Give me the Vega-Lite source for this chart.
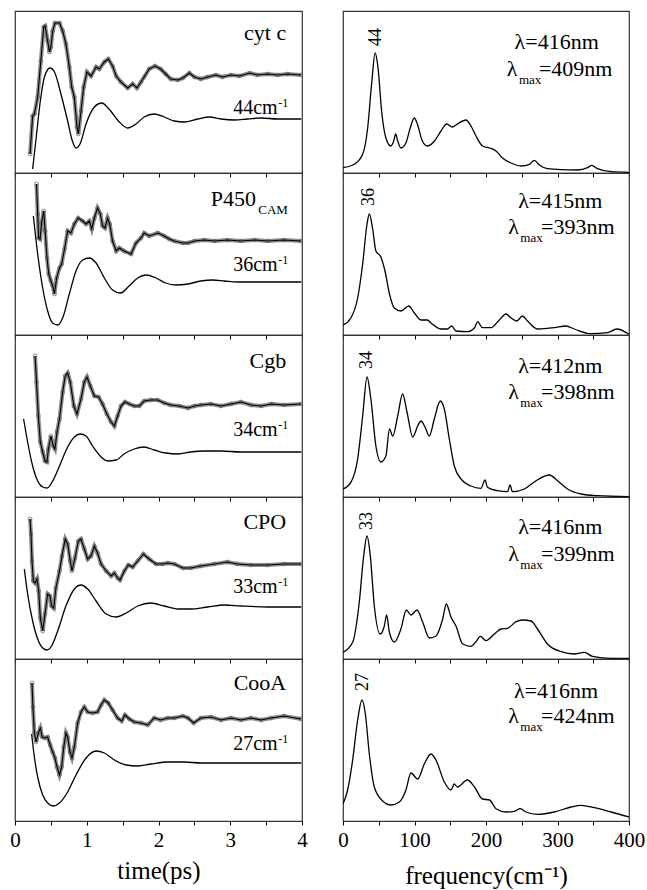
{
"$schema": "https://vega.github.io/schema/vega-lite/v6.json",
"padding": {"left": 9, "top": 10, "right": 0, "bottom": 0},
"background": "white",
"config": {
  "view": {"stroke": "#333333", "strokeWidth": 1.2},
  "axis": {"domain": false, "grid": false, "ticks": true, "tickColor": "black", "tickSize": 4, "tickWidth": 1, "labelFont": "Liberation Serif, serif", "labelFontSize": 21, "labelColor": "black", "labelPadding": 4, "labelOverlap": false, "labelFlush": false, "labelBound": false, "titleFont": "Liberation Serif, serif", "titleFontSize": 25, "titleFontWeight": "normal", "titleColor": "black"},
  "text": {"font": "Liberation Serif, serif", "color": "black"}
},
"datasets": {
  "tr": [
{"p":1,"s":"d","x":0.21,"y":19},{"p":1,"s":"d","x":0.246,"y":57},{"p":1,"s":"d","x":0.27,"y":59},{"p":1,"s":"d","x":0.316,"y":76},{"p":1,"s":"d","x":0.36,"y":112},{"p":1,"s":"d","x":0.40,"y":146},{"p":1,"s":"d","x":0.42,"y":147},{"p":1,"s":"d","x":0.455,"y":132},{"p":1,"s":"d","x":0.48,"y":121},{"p":1,"s":"d","x":0.50,"y":126},{"p":1,"s":"d","x":0.525,"y":142},{"p":1,"s":"d","x":0.557,"y":150},{"p":1,"s":"d","x":0.62,"y":150},{"p":1,"s":"d","x":0.665,"y":142},{"p":1,"s":"d","x":0.71,"y":129},{"p":1,"s":"d","x":0.757,"y":106},{"p":1,"s":"d","x":0.79,"y":86},{"p":1,"s":"d","x":0.827,"y":76},{"p":1,"s":"d","x":0.864,"y":46},{"p":1,"s":"d","x":0.883,"y":39},{"p":1,"s":"d","x":0.92,"y":62},{"p":1,"s":"d","x":0.957,"y":86},{"p":1,"s":"d","x":1.003,"y":101},{"p":1,"s":"d","x":1.06,"y":97},{"p":1,"s":"d","x":1.13,"y":106},{"p":1,"s":"d","x":1.175,"y":104},{"p":1,"s":"d","x":1.245,"y":111},{"p":1,"s":"d","x":1.30,"y":114},{"p":1,"s":"d","x":1.36,"y":107},{"p":1,"s":"d","x":1.41,"y":97},{"p":1,"s":"d","x":1.477,"y":91},{"p":1,"s":"d","x":1.57,"y":85},{"p":1,"s":"d","x":1.64,"y":89},{"p":1,"s":"d","x":1.70,"y":85},{"p":1,"s":"d","x":1.756,"y":91},{"p":1,"s":"d","x":1.80,"y":96},{"p":1,"s":"d","x":1.87,"y":104},{"p":1,"s":"d","x":1.95,"y":107},{"p":1,"s":"d","x":2.03,"y":104},{"p":1,"s":"d","x":2.10,"y":99},{"p":1,"s":"d","x":2.17,"y":94},{"p":1,"s":"d","x":2.27,"y":93},{"p":1,"s":"d","x":2.34,"y":95},{"p":1,"s":"d","x":2.43,"y":100},{"p":1,"s":"d","x":2.50,"y":96},{"p":1,"s":"d","x":2.59,"y":94},{"p":1,"s":"d","x":2.685,"y":96},{"p":1,"s":"d","x":2.80,"y":98},{"p":1,"s":"d","x":2.89,"y":96},{"p":1,"s":"d","x":3.01,"y":98},{"p":1,"s":"d","x":3.13,"y":97},{"p":1,"s":"d","x":3.27,"y":100},{"p":1,"s":"d","x":3.38,"y":98},{"p":1,"s":"d","x":3.52,"y":99},{"p":1,"s":"d","x":3.66,"y":98},{"p":1,"s":"d","x":3.80,"y":99},{"p":1,"s":"d","x":3.99,"y":98},
{"p":1,"s":"f","x":0.246,"y":4},{"p":1,"s":"f","x":0.29,"y":32},{"p":1,"s":"f","x":0.353,"y":72},{"p":1,"s":"f","x":0.41,"y":96},{"p":1,"s":"f","x":0.488,"y":105},{"p":1,"s":"f","x":0.55,"y":101},{"p":1,"s":"f","x":0.64,"y":79},{"p":1,"s":"f","x":0.734,"y":52},{"p":1,"s":"f","x":0.80,"y":32},{"p":1,"s":"f","x":0.85,"y":25},{"p":1,"s":"f","x":0.906,"y":29},{"p":1,"s":"f","x":0.99,"y":49},{"p":1,"s":"f","x":1.106,"y":66},{"p":1,"s":"f","x":1.21,"y":70},{"p":1,"s":"f","x":1.31,"y":64},{"p":1,"s":"f","x":1.454,"y":51},{"p":1,"s":"f","x":1.57,"y":45},{"p":1,"s":"f","x":1.686,"y":49},{"p":1,"s":"f","x":1.80,"y":56},{"p":1,"s":"f","x":1.94,"y":59},{"p":1,"s":"f","x":2.08,"y":56},{"p":1,"s":"f","x":2.22,"y":52},{"p":1,"s":"f","x":2.36,"y":51},{"p":1,"s":"f","x":2.546,"y":54},{"p":1,"s":"f","x":2.71,"y":56},{"p":1,"s":"f","x":2.87,"y":54},{"p":1,"s":"f","x":3.06,"y":53},{"p":1,"s":"f","x":3.24,"y":54},{"p":1,"s":"f","x":3.43,"y":55},{"p":1,"s":"f","x":3.66,"y":54},{"p":1,"s":"f","x":3.99,"y":54},
{"p":2,"s":"d","x":0.30,"y":151},{"p":2,"s":"d","x":0.316,"y":121},{"p":2,"s":"d","x":0.33,"y":97},{"p":2,"s":"d","x":0.35,"y":96},{"p":2,"s":"d","x":0.37,"y":112},{"p":2,"s":"d","x":0.40,"y":124},{"p":2,"s":"d","x":0.42,"y":104},{"p":2,"s":"d","x":0.446,"y":77},{"p":2,"s":"d","x":0.47,"y":61},{"p":2,"s":"d","x":0.50,"y":54},{"p":2,"s":"d","x":0.525,"y":49},{"p":2,"s":"d","x":0.55,"y":41},{"p":2,"s":"d","x":0.58,"y":57},{"p":2,"s":"d","x":0.62,"y":67},{"p":2,"s":"d","x":0.65,"y":71},{"p":2,"s":"d","x":0.69,"y":86},{"p":2,"s":"d","x":0.734,"y":104},{"p":2,"s":"d","x":0.78,"y":102},{"p":2,"s":"d","x":0.827,"y":111},{"p":2,"s":"d","x":0.88,"y":117},{"p":2,"s":"d","x":0.943,"y":114},{"p":2,"s":"d","x":0.99,"y":111},{"p":2,"s":"d","x":1.036,"y":114},{"p":2,"s":"d","x":1.07,"y":106},{"p":2,"s":"d","x":1.106,"y":117},{"p":2,"s":"d","x":1.15,"y":127},{"p":2,"s":"d","x":1.19,"y":121},{"p":2,"s":"d","x":1.22,"y":109},{"p":2,"s":"d","x":1.254,"y":107},{"p":2,"s":"d","x":1.29,"y":117},{"p":2,"s":"d","x":1.32,"y":111},{"p":2,"s":"d","x":1.36,"y":94},{"p":2,"s":"d","x":1.41,"y":84},{"p":2,"s":"d","x":1.454,"y":87},{"p":2,"s":"d","x":1.52,"y":84},{"p":2,"s":"d","x":1.617,"y":81},{"p":2,"s":"d","x":1.686,"y":92},{"p":2,"s":"d","x":1.756,"y":97},{"p":2,"s":"d","x":1.80,"y":102},{"p":2,"s":"d","x":1.87,"y":99},{"p":2,"s":"d","x":1.99,"y":102},{"p":2,"s":"d","x":2.08,"y":99},{"p":2,"s":"d","x":2.15,"y":96},{"p":2,"s":"d","x":2.22,"y":94},{"p":2,"s":"d","x":2.34,"y":92},{"p":2,"s":"d","x":2.41,"y":92},{"p":2,"s":"d","x":2.50,"y":94},{"p":2,"s":"d","x":2.64,"y":95},{"p":2,"s":"d","x":2.78,"y":94},{"p":2,"s":"d","x":2.96,"y":95},{"p":2,"s":"d","x":3.15,"y":94},{"p":2,"s":"d","x":3.34,"y":95},{"p":2,"s":"d","x":3.52,"y":94},{"p":2,"s":"d","x":3.75,"y":95},{"p":2,"s":"d","x":3.99,"y":94},
{"p":2,"s":"f","x":0.256,"y":119},{"p":2,"s":"f","x":0.316,"y":81},{"p":2,"s":"f","x":0.386,"y":47},{"p":2,"s":"f","x":0.455,"y":24},{"p":2,"s":"f","x":0.525,"y":12},{"p":2,"s":"f","x":0.595,"y":10},{"p":2,"s":"f","x":0.664,"y":17},{"p":2,"s":"f","x":0.757,"y":41},{"p":2,"s":"f","x":0.85,"y":64},{"p":2,"s":"f","x":0.943,"y":75},{"p":2,"s":"f","x":1.036,"y":77},{"p":2,"s":"f","x":1.13,"y":72},{"p":2,"s":"f","x":1.245,"y":57},{"p":2,"s":"f","x":1.36,"y":45},{"p":2,"s":"f","x":1.47,"y":42},{"p":2,"s":"f","x":1.59,"y":49},{"p":2,"s":"f","x":1.71,"y":57},{"p":2,"s":"f","x":1.826,"y":60},{"p":2,"s":"f","x":1.965,"y":57},{"p":2,"s":"f","x":2.10,"y":52},{"p":2,"s":"f","x":2.24,"y":50},{"p":2,"s":"f","x":2.41,"y":51},{"p":2,"s":"f","x":2.59,"y":54},{"p":2,"s":"f","x":2.755,"y":55},{"p":2,"s":"f","x":2.92,"y":54},{"p":2,"s":"f","x":3.10,"y":53},{"p":2,"s":"f","x":3.34,"y":53},{"p":2,"s":"f","x":3.66,"y":53},{"p":2,"s":"f","x":3.99,"y":53},
{"p":3,"s":"d","x":0.28,"y":141},{"p":3,"s":"d","x":0.30,"y":115},{"p":3,"s":"d","x":0.325,"y":81},{"p":3,"s":"d","x":0.353,"y":55},{"p":3,"s":"d","x":0.386,"y":45},{"p":3,"s":"d","x":0.418,"y":36},{"p":3,"s":"d","x":0.446,"y":35},{"p":3,"s":"d","x":0.465,"y":48},{"p":3,"s":"d","x":0.50,"y":61},{"p":3,"s":"d","x":0.534,"y":51},{"p":3,"s":"d","x":0.557,"y":48},{"p":3,"s":"d","x":0.585,"y":65},{"p":3,"s":"d","x":0.62,"y":78},{"p":3,"s":"d","x":0.664,"y":105},{"p":3,"s":"d","x":0.70,"y":121},{"p":3,"s":"d","x":0.734,"y":124},{"p":3,"s":"d","x":0.77,"y":115},{"p":3,"s":"d","x":0.82,"y":91},{"p":3,"s":"d","x":0.864,"y":83},{"p":3,"s":"d","x":0.92,"y":98},{"p":3,"s":"d","x":0.966,"y":115},{"p":3,"s":"d","x":1.003,"y":120},{"p":3,"s":"d","x":1.05,"y":111},{"p":3,"s":"d","x":1.106,"y":101},{"p":3,"s":"d","x":1.166,"y":100},{"p":3,"s":"d","x":1.22,"y":93},{"p":3,"s":"d","x":1.28,"y":83},{"p":3,"s":"d","x":1.34,"y":75},{"p":3,"s":"d","x":1.385,"y":71},{"p":3,"s":"d","x":1.43,"y":81},{"p":3,"s":"d","x":1.477,"y":91},{"p":3,"s":"d","x":1.533,"y":95},{"p":3,"s":"d","x":1.594,"y":93},{"p":3,"s":"d","x":1.663,"y":91},{"p":3,"s":"d","x":1.733,"y":91},{"p":3,"s":"d","x":1.80,"y":96},{"p":3,"s":"d","x":1.895,"y":97},{"p":3,"s":"d","x":1.99,"y":97},{"p":3,"s":"d","x":2.08,"y":94},{"p":3,"s":"d","x":2.17,"y":92},{"p":3,"s":"d","x":2.29,"y":91},{"p":3,"s":"d","x":2.41,"y":89},{"p":3,"s":"d","x":2.50,"y":91},{"p":3,"s":"d","x":2.59,"y":92},{"p":3,"s":"d","x":2.73,"y":93},{"p":3,"s":"d","x":2.87,"y":91},{"p":3,"s":"d","x":3.01,"y":93},{"p":3,"s":"d","x":3.15,"y":95},{"p":3,"s":"d","x":3.29,"y":92},{"p":3,"s":"d","x":3.43,"y":91},{"p":3,"s":"d","x":3.57,"y":93},{"p":3,"s":"d","x":3.75,"y":92},{"p":3,"s":"d","x":3.99,"y":93},
{"p":3,"s":"f","x":0.12,"y":78},{"p":3,"s":"f","x":0.176,"y":55},{"p":3,"s":"f","x":0.246,"y":31},{"p":3,"s":"f","x":0.316,"y":16},{"p":3,"s":"f","x":0.386,"y":10},{"p":3,"s":"f","x":0.446,"y":9},{"p":3,"s":"f","x":0.525,"y":16},{"p":3,"s":"f","x":0.62,"y":31},{"p":3,"s":"f","x":0.734,"y":50},{"p":3,"s":"f","x":0.827,"y":60},{"p":3,"s":"f","x":0.91,"y":63},{"p":3,"s":"f","x":0.99,"y":61},{"p":3,"s":"f","x":1.08,"y":51},{"p":3,"s":"f","x":1.2,"y":40},{"p":3,"s":"f","x":1.29,"y":36},{"p":3,"s":"f","x":1.41,"y":37},{"p":3,"s":"f","x":1.52,"y":43},{"p":3,"s":"f","x":1.66,"y":48},{"p":3,"s":"f","x":1.80,"y":50},{"p":3,"s":"f","x":1.94,"y":47},{"p":3,"s":"f","x":2.10,"y":44},{"p":3,"s":"f","x":2.27,"y":43},{"p":3,"s":"f","x":2.45,"y":45},{"p":3,"s":"f","x":2.64,"y":46},{"p":3,"s":"f","x":2.87,"y":46},{"p":3,"s":"f","x":3.15,"y":45},{"p":3,"s":"f","x":3.52,"y":45},{"p":3,"s":"f","x":3.99,"y":45},
{"p":4,"s":"d","x":0.21,"y":140},{"p":4,"s":"d","x":0.223,"y":125},{"p":4,"s":"d","x":0.237,"y":98},{"p":4,"s":"d","x":0.255,"y":78},{"p":4,"s":"d","x":0.28,"y":76},{"p":4,"s":"d","x":0.307,"y":80},{"p":4,"s":"d","x":0.33,"y":68},{"p":4,"s":"d","x":0.353,"y":41},{"p":4,"s":"d","x":0.386,"y":28},{"p":4,"s":"d","x":0.418,"y":45},{"p":4,"s":"d","x":0.455,"y":65},{"p":4,"s":"d","x":0.488,"y":63},{"p":4,"s":"d","x":0.51,"y":53},{"p":4,"s":"d","x":0.54,"y":51},{"p":4,"s":"d","x":0.57,"y":71},{"p":4,"s":"d","x":0.62,"y":88},{"p":4,"s":"d","x":0.655,"y":103},{"p":4,"s":"d","x":0.70,"y":120},{"p":4,"s":"d","x":0.734,"y":115},{"p":4,"s":"d","x":0.77,"y":98},{"p":4,"s":"d","x":0.794,"y":88},{"p":4,"s":"d","x":0.836,"y":101},{"p":4,"s":"d","x":0.883,"y":118},{"p":4,"s":"d","x":0.92,"y":120},{"p":4,"s":"d","x":0.966,"y":110},{"p":4,"s":"d","x":1.013,"y":100},{"p":4,"s":"d","x":1.06,"y":103},{"p":4,"s":"d","x":1.106,"y":113},{"p":4,"s":"d","x":1.15,"y":106},{"p":4,"s":"d","x":1.2,"y":95},{"p":4,"s":"d","x":1.27,"y":88},{"p":4,"s":"d","x":1.34,"y":83},{"p":4,"s":"d","x":1.385,"y":86},{"p":4,"s":"d","x":1.43,"y":81},{"p":4,"s":"d","x":1.463,"y":79},{"p":4,"s":"d","x":1.524,"y":88},{"p":4,"s":"d","x":1.58,"y":94},{"p":4,"s":"d","x":1.64,"y":92},{"p":4,"s":"d","x":1.71,"y":98},{"p":4,"s":"d","x":1.79,"y":105},{"p":4,"s":"d","x":1.87,"y":100},{"p":4,"s":"d","x":1.965,"y":95},{"p":4,"s":"d","x":2.06,"y":95},{"p":4,"s":"d","x":2.13,"y":96},{"p":4,"s":"d","x":2.22,"y":95},{"p":4,"s":"d","x":2.34,"y":91},{"p":4,"s":"d","x":2.45,"y":91},{"p":4,"s":"d","x":2.59,"y":93},{"p":4,"s":"d","x":2.78,"y":95},{"p":4,"s":"d","x":2.96,"y":97},{"p":4,"s":"d","x":3.10,"y":95},{"p":4,"s":"d","x":3.29,"y":94},{"p":4,"s":"d","x":3.52,"y":94},{"p":4,"s":"d","x":3.75,"y":95},{"p":4,"s":"d","x":3.99,"y":95},
{"p":4,"s":"f","x":0.13,"y":90},{"p":4,"s":"f","x":0.176,"y":65},{"p":4,"s":"f","x":0.246,"y":38},{"p":4,"s":"f","x":0.316,"y":20},{"p":4,"s":"f","x":0.386,"y":11},{"p":4,"s":"f","x":0.446,"y":9},{"p":4,"s":"f","x":0.51,"y":13},{"p":4,"s":"f","x":0.595,"y":28},{"p":4,"s":"f","x":0.71,"y":53},{"p":4,"s":"f","x":0.827,"y":70},{"p":4,"s":"f","x":0.92,"y":74},{"p":4,"s":"f","x":1.013,"y":70},{"p":4,"s":"f","x":1.13,"y":58},{"p":4,"s":"f","x":1.27,"y":45},{"p":4,"s":"f","x":1.41,"y":42},{"p":4,"s":"f","x":1.55,"y":46},{"p":4,"s":"f","x":1.71,"y":53},{"p":4,"s":"f","x":1.895,"y":56},{"p":4,"s":"f","x":2.08,"y":53},{"p":4,"s":"f","x":2.27,"y":50},{"p":4,"s":"f","x":2.45,"y":50},{"p":4,"s":"f","x":2.685,"y":52},{"p":4,"s":"f","x":2.92,"y":54},{"p":4,"s":"f","x":3.15,"y":53},{"p":4,"s":"f","x":3.52,"y":52},{"p":4,"s":"f","x":3.99,"y":52},
{"p":5,"s":"d","x":0.237,"y":138},{"p":5,"s":"d","x":0.25,"y":114},{"p":5,"s":"d","x":0.27,"y":88},{"p":5,"s":"d","x":0.293,"y":79},{"p":5,"s":"d","x":0.325,"y":88},{"p":5,"s":"d","x":0.353,"y":93},{"p":5,"s":"d","x":0.38,"y":84},{"p":5,"s":"d","x":0.418,"y":83},{"p":5,"s":"d","x":0.455,"y":84},{"p":5,"s":"d","x":0.49,"y":76},{"p":5,"s":"d","x":0.525,"y":69},{"p":5,"s":"d","x":0.557,"y":63},{"p":5,"s":"d","x":0.585,"y":54},{"p":5,"s":"d","x":0.62,"y":46},{"p":5,"s":"d","x":0.65,"y":54},{"p":5,"s":"d","x":0.68,"y":74},{"p":5,"s":"d","x":0.71,"y":88},{"p":5,"s":"d","x":0.734,"y":84},{"p":5,"s":"d","x":0.766,"y":69},{"p":5,"s":"d","x":0.794,"y":63},{"p":5,"s":"d","x":0.827,"y":74},{"p":5,"s":"d","x":0.873,"y":98},{"p":5,"s":"d","x":0.92,"y":109},{"p":5,"s":"d","x":0.966,"y":114},{"p":5,"s":"d","x":1.013,"y":109},{"p":5,"s":"d","x":1.08,"y":108},{"p":5,"s":"d","x":1.15,"y":109},{"p":5,"s":"d","x":1.2,"y":116},{"p":5,"s":"d","x":1.245,"y":121},{"p":5,"s":"d","x":1.30,"y":118},{"p":5,"s":"d","x":1.36,"y":111},{"p":5,"s":"d","x":1.43,"y":103},{"p":5,"s":"d","x":1.487,"y":100},{"p":5,"s":"d","x":1.533,"y":106},{"p":5,"s":"d","x":1.594,"y":102},{"p":5,"s":"d","x":1.663,"y":99},{"p":5,"s":"d","x":1.756,"y":98},{"p":5,"s":"d","x":1.85,"y":96},{"p":5,"s":"d","x":1.94,"y":103},{"p":5,"s":"d","x":2.03,"y":101},{"p":5,"s":"d","x":2.13,"y":103},{"p":5,"s":"d","x":2.22,"y":103},{"p":5,"s":"d","x":2.34,"y":105},{"p":5,"s":"d","x":2.41,"y":103},{"p":5,"s":"d","x":2.49,"y":98},{"p":5,"s":"d","x":2.59,"y":103},{"p":5,"s":"d","x":2.73,"y":104},{"p":5,"s":"d","x":2.87,"y":101},{"p":5,"s":"d","x":3.01,"y":103},{"p":5,"s":"d","x":3.15,"y":101},{"p":5,"s":"d","x":3.29,"y":103},{"p":5,"s":"d","x":3.43,"y":101},{"p":5,"s":"d","x":3.57,"y":103},{"p":5,"s":"d","x":3.75,"y":105},{"p":5,"s":"d","x":3.99,"y":102},
{"p":5,"s":"f","x":0.232,"y":87},{"p":5,"s":"f","x":0.27,"y":64},{"p":5,"s":"f","x":0.316,"y":44},{"p":5,"s":"f","x":0.386,"y":26},{"p":5,"s":"f","x":0.455,"y":18},{"p":5,"s":"f","x":0.534,"y":15},{"p":5,"s":"f","x":0.62,"y":18},{"p":5,"s":"f","x":0.734,"y":29},{"p":5,"s":"f","x":0.85,"y":46},{"p":5,"s":"f","x":0.99,"y":63},{"p":5,"s":"f","x":1.13,"y":70},{"p":5,"s":"f","x":1.245,"y":68},{"p":5,"s":"f","x":1.385,"y":61},{"p":5,"s":"f","x":1.547,"y":56},{"p":5,"s":"f","x":1.71,"y":55},{"p":5,"s":"f","x":1.895,"y":57},{"p":5,"s":"f","x":2.13,"y":59},{"p":5,"s":"f","x":2.36,"y":59},{"p":5,"s":"f","x":2.59,"y":58},{"p":5,"s":"f","x":3.06,"y":58},{"p":5,"s":"f","x":3.52,"y":58},{"p":5,"s":"f","x":3.99,"y":58},
{"p":1,"s":"sp","x":0,"y":5.3},{"p":1,"s":"sp","x":15.8,"y":8.7},{"p":1,"s":"sp","x":27.5,"y":18.7},{"p":1,"s":"sp","x":34.5,"y":45},{"p":1,"s":"sp","x":40,"y":89},{"p":1,"s":"sp","x":45,"y":120},{"p":1,"s":"sp","x":49,"y":105},{"p":1,"s":"sp","x":54,"y":62},{"p":1,"s":"sp","x":60,"y":35},{"p":1,"s":"sp","x":67,"y":27},{"p":1,"s":"sp","x":70.9,"y":32},{"p":1,"s":"sp","x":73.7,"y":39},{"p":1,"s":"sp","x":76.5,"y":32},{"p":1,"s":"sp","x":81,"y":25},{"p":1,"s":"sp","x":88,"y":30},{"p":1,"s":"sp","x":94,"y":45},{"p":1,"s":"sp","x":99.7,"y":55},{"p":1,"s":"sp","x":104,"y":49},{"p":1,"s":"sp","x":111,"y":32},{"p":1,"s":"sp","x":118,"y":27},{"p":1,"s":"sp","x":128,"y":32},{"p":1,"s":"sp","x":137,"y":42},{"p":1,"s":"sp","x":145,"y":49},{"p":1,"s":"sp","x":153,"y":46},{"p":1,"s":"sp","x":160,"y":49},{"p":1,"s":"sp","x":172,"y":53},{"p":1,"s":"sp","x":179,"y":47},{"p":1,"s":"sp","x":186,"y":37},{"p":1,"s":"sp","x":195,"y":27},{"p":1,"s":"sp","x":205,"y":25},{"p":1,"s":"sp","x":214,"y":22},{"p":1,"s":"sp","x":223,"y":15},{"p":1,"s":"sp","x":235,"y":10},{"p":1,"s":"sp","x":249,"y":7},{"p":1,"s":"sp","x":260.6,"y":8.7},{"p":1,"s":"sp","x":267.6,"y":12.7},{"p":1,"s":"sp","x":274.6,"y":8},{"p":1,"s":"sp","x":286,"y":4.3},{"p":1,"s":"sp","x":305,"y":3.3},{"p":1,"s":"sp","x":328,"y":3},{"p":1,"s":"sp","x":342,"y":5.3},{"p":1,"s":"sp","x":347.8,"y":7.7},{"p":1,"s":"sp","x":356,"y":4.3},{"p":1,"s":"sp","x":375,"y":1.3},{"p":1,"s":"sp","x":400,"y":0.7},
{"p":2,"s":"sp","x":0,"y":10},{"p":2,"s":"sp","x":11,"y":17},{"p":2,"s":"sp","x":20.5,"y":37},{"p":2,"s":"sp","x":27.5,"y":71},{"p":2,"s":"sp","x":33.6,"y":111},{"p":2,"s":"sp","x":36.8,"y":121},{"p":2,"s":"sp","x":41.5,"y":106},{"p":2,"s":"sp","x":46,"y":84},{"p":2,"s":"sp","x":53,"y":78},{"p":2,"s":"sp","x":58.7,"y":64},{"p":2,"s":"sp","x":65,"y":41},{"p":2,"s":"sp","x":71.8,"y":27},{"p":2,"s":"sp","x":81,"y":24},{"p":2,"s":"sp","x":91.8,"y":29},{"p":2,"s":"sp","x":99.8,"y":22},{"p":2,"s":"sp","x":109,"y":15},{"p":2,"s":"sp","x":118,"y":15},{"p":2,"s":"sp","x":123,"y":12},{"p":2,"s":"sp","x":137,"y":6},{"p":2,"s":"sp","x":146,"y":6},{"p":2,"s":"sp","x":152,"y":9},{"p":2,"s":"sp","x":158,"y":4},{"p":2,"s":"sp","x":174,"y":3.3},{"p":2,"s":"sp","x":184,"y":7.3},{"p":2,"s":"sp","x":188.3,"y":13.3},{"p":2,"s":"sp","x":195,"y":7.3},{"p":2,"s":"sp","x":207,"y":7.3},{"p":2,"s":"sp","x":218.6,"y":15},{"p":2,"s":"sp","x":228,"y":21},{"p":2,"s":"sp","x":235,"y":17},{"p":2,"s":"sp","x":243,"y":14},{"p":2,"s":"sp","x":251,"y":19},{"p":2,"s":"sp","x":258,"y":14},{"p":2,"s":"sp","x":272,"y":6},{"p":2,"s":"sp","x":295.5,"y":7.3},{"p":2,"s":"sp","x":312,"y":9},{"p":2,"s":"sp","x":323.5,"y":6},{"p":2,"s":"sp","x":346.8,"y":1.3},{"p":2,"s":"sp","x":370,"y":2.3},{"p":2,"s":"sp","x":383,"y":6},{"p":2,"s":"sp","x":400,"y":0.7},
{"p":3,"s":"sp","x":0,"y":8},{"p":3,"s":"sp","x":11,"y":14.7},{"p":3,"s":"sp","x":20.5,"y":38},{"p":3,"s":"sp","x":27.5,"y":81},{"p":3,"s":"sp","x":33.6,"y":120},{"p":3,"s":"sp","x":39,"y":98},{"p":3,"s":"sp","x":46,"y":51},{"p":3,"s":"sp","x":53,"y":35},{"p":3,"s":"sp","x":60,"y":41},{"p":3,"s":"sp","x":65,"y":68},{"p":3,"s":"sp","x":69.5,"y":61},{"p":3,"s":"sp","x":76.5,"y":81},{"p":3,"s":"sp","x":83.4,"y":103},{"p":3,"s":"sp","x":89.5,"y":85},{"p":3,"s":"sp","x":97.5,"y":60},{"p":3,"s":"sp","x":104.4,"y":71},{"p":3,"s":"sp","x":109,"y":76},{"p":3,"s":"sp","x":114.7,"y":70},{"p":3,"s":"sp","x":120.7,"y":61},{"p":3,"s":"sp","x":127.7,"y":78},{"p":3,"s":"sp","x":136,"y":96},{"p":3,"s":"sp","x":141.7,"y":88},{"p":3,"s":"sp","x":148.7,"y":58},{"p":3,"s":"sp","x":155.7,"y":31},{"p":3,"s":"sp","x":165,"y":18},{"p":3,"s":"sp","x":179,"y":11},{"p":3,"s":"sp","x":193,"y":8.7},{"p":3,"s":"sp","x":198.6,"y":17},{"p":3,"s":"sp","x":202,"y":9.7},{"p":3,"s":"sp","x":216,"y":6.3},{"p":3,"s":"sp","x":230,"y":5.3},{"p":3,"s":"sp","x":233.6,"y":12},{"p":3,"s":"sp","x":237,"y":5.3},{"p":3,"s":"sp","x":253.6,"y":8},{"p":3,"s":"sp","x":270,"y":16.3},{"p":3,"s":"sp","x":288.6,"y":22},{"p":3,"s":"sp","x":300,"y":16.3},{"p":3,"s":"sp","x":314,"y":8},{"p":3,"s":"sp","x":333,"y":3},{"p":3,"s":"sp","x":356,"y":1.3},{"p":3,"s":"sp","x":400,"y":0.3},
{"p":4,"s":"sp","x":0,"y":6.7},{"p":4,"s":"sp","x":13.5,"y":16.7},{"p":4,"s":"sp","x":22.8,"y":57},{"p":4,"s":"sp","x":28.9,"y":103},{"p":4,"s":"sp","x":33.6,"y":123},{"p":4,"s":"sp","x":38.2,"y":103},{"p":4,"s":"sp","x":43.8,"y":53},{"p":4,"s":"sp","x":52,"y":25},{"p":4,"s":"sp","x":57.8,"y":33},{"p":4,"s":"sp","x":61,"y":44},{"p":4,"s":"sp","x":64.8,"y":27},{"p":4,"s":"sp","x":71.8,"y":17},{"p":4,"s":"sp","x":81,"y":30},{"p":4,"s":"sp","x":88.6,"y":49},{"p":4,"s":"sp","x":95,"y":44},{"p":4,"s":"sp","x":103.5,"y":49},{"p":4,"s":"sp","x":111.4,"y":37},{"p":4,"s":"sp","x":120.7,"y":21},{"p":4,"s":"sp","x":130,"y":23},{"p":4,"s":"sp","x":139.4,"y":40},{"p":4,"s":"sp","x":144.5,"y":55},{"p":4,"s":"sp","x":151,"y":42},{"p":4,"s":"sp","x":158,"y":33},{"p":4,"s":"sp","x":167.4,"y":15},{"p":4,"s":"sp","x":179,"y":12.7},{"p":4,"s":"sp","x":186,"y":17.3},{"p":4,"s":"sp","x":192,"y":22.7},{"p":4,"s":"sp","x":200,"y":18.3},{"p":4,"s":"sp","x":211.7,"y":25},{"p":4,"s":"sp","x":221,"y":30},{"p":4,"s":"sp","x":230,"y":30.7},{"p":4,"s":"sp","x":242,"y":37.3},{"p":4,"s":"sp","x":251,"y":39},{"p":4,"s":"sp","x":263,"y":38},{"p":4,"s":"sp","x":272,"y":30},{"p":4,"s":"sp","x":286,"y":15},{"p":4,"s":"sp","x":305,"y":7.3},{"p":4,"s":"sp","x":323.5,"y":5},{"p":4,"s":"sp","x":337.5,"y":6.7},{"p":4,"s":"sp","x":349,"y":2.7},{"p":4,"s":"sp","x":375,"y":0.7},{"p":4,"s":"sp","x":400,"y":0.7},
{"p":5,"s":"sp","x":0,"y":17},{"p":5,"s":"sp","x":6.5,"y":31},{"p":5,"s":"sp","x":13.5,"y":61},{"p":5,"s":"sp","x":20.5,"y":101},{"p":5,"s":"sp","x":26.6,"y":121},{"p":5,"s":"sp","x":31.3,"y":107},{"p":5,"s":"sp","x":36.8,"y":67},{"p":5,"s":"sp","x":43.8,"y":34},{"p":5,"s":"sp","x":55.5,"y":20},{"p":5,"s":"sp","x":67,"y":16},{"p":5,"s":"sp","x":78.8,"y":19},{"p":5,"s":"sp","x":88,"y":31},{"p":5,"s":"sp","x":95,"y":48},{"p":5,"s":"sp","x":104.4,"y":42},{"p":5,"s":"sp","x":113.7,"y":57},{"p":5,"s":"sp","x":123,"y":67},{"p":5,"s":"sp","x":130,"y":61},{"p":5,"s":"sp","x":141.7,"y":39},{"p":5,"s":"sp","x":151,"y":31},{"p":5,"s":"sp","x":155.7,"y":37},{"p":5,"s":"sp","x":160,"y":34},{"p":5,"s":"sp","x":174,"y":41},{"p":5,"s":"sp","x":184,"y":34},{"p":5,"s":"sp","x":195,"y":22},{"p":5,"s":"sp","x":205,"y":21},{"p":5,"s":"sp","x":214,"y":12.3},{"p":5,"s":"sp","x":228,"y":9},{"p":5,"s":"sp","x":239.6,"y":9.7},{"p":5,"s":"sp","x":248,"y":12.3},{"p":5,"s":"sp","x":256,"y":9},{"p":5,"s":"sp","x":272,"y":6.7},{"p":5,"s":"sp","x":295.5,"y":9},{"p":5,"s":"sp","x":319,"y":14},{"p":5,"s":"sp","x":333,"y":15.7},{"p":5,"s":"sp","x":351.5,"y":13.3},{"p":5,"s":"sp","x":375,"y":9},{"p":5,"s":"sp","x":400,"y":4}
  ],
  "lb": [
{"p":1,"k":"n","x":3.78,"y":133,"t":"cyt c"},{"p":1,"k":"f","x":3.66,"y":59,"t":"44cm"},{"p":1,"k":"u","x":3.67,"y":66,"t":"-1"},
{"p":2,"k":"n","x":3.36,"y":129,"t":"P450"},{"p":2,"k":"s","x":3.39,"y":121,"t":"CAM"},{"p":2,"k":"f","x":3.66,"y":64,"t":"36cm"},{"p":2,"k":"u","x":3.67,"y":71,"t":"-1"},
{"p":3,"k":"n","x":3.78,"y":129,"t":"Cgb"},{"p":3,"k":"f","x":3.66,"y":61,"t":"34cm"},{"p":3,"k":"u","x":3.67,"y":68,"t":"-1"},
{"p":4,"k":"n","x":3.78,"y":130,"t":"CPO"},{"p":4,"k":"f","x":3.66,"y":66,"t":"33cm"},{"p":4,"k":"u","x":3.67,"y":73,"t":"-1"},
{"p":5,"k":"n","x":3.78,"y":131,"t":"CooA"},{"p":5,"k":"f","x":3.66,"y":71,"t":"27cm"},{"p":5,"k":"u","x":3.67,"y":78,"t":"-1"},
{"p":1,"k":"pk","x":46,"y":127,"t":"44"},{"p":1,"k":"l","x":240,"y":124,"t":"λ=416nm"},{"p":1,"k":"l","x":229,"y":97,"t":"λ"},{"p":1,"k":"m","x":246,"y":89,"t":"max"},{"p":1,"k":"l","x":274,"y":97,"t":"=409nm"},
{"p":2,"k":"pk","x":37,"y":129,"t":"36"},{"p":2,"k":"l","x":245,"y":127,"t":"λ=415nm"},{"p":2,"k":"l","x":231,"y":101,"t":"λ"},{"p":2,"k":"m","x":248,"y":93,"t":"max"},{"p":2,"k":"l","x":277,"y":101,"t":"=393nm"},
{"p":3,"k":"pk","x":34,"y":128,"t":"34"},{"p":3,"k":"l","x":245,"y":124,"t":"λ=412nm"},{"p":3,"k":"l","x":231,"y":98,"t":"λ"},{"p":3,"k":"m","x":248,"y":90,"t":"max"},{"p":3,"k":"l","x":277,"y":98,"t":"=398nm"},
{"p":4,"k":"pk","x":34,"y":129,"t":"33"},{"p":4,"k":"l","x":245,"y":125,"t":"λ=416nm"},{"p":4,"k":"l","x":231,"y":98,"t":"λ"},{"p":4,"k":"m","x":248,"y":90,"t":"max"},{"p":4,"k":"l","x":277,"y":98,"t":"=399nm"},
{"p":5,"k":"pk","x":28,"y":130,"t":"27"},{"p":5,"k":"l","x":239,"y":123,"t":"λ=416nm"},{"p":5,"k":"l","x":231,"y":98,"t":"λ"},{"p":5,"k":"m","x":248,"y":90,"t":"max"},{"p":5,"k":"l","x":277,"y":98,"t":"=424nm"}
  ]
},
"columns": 2,
"spacing": {"row": 0, "column": 41},
"bounds": "flush",
"concat": [
  {"width": 287, "height": 162, "data": {"name": "tr"},
   "encoding": {"x": {"field": "x", "type": "quantitative", "scale": {"domain": [0, 4], "nice": false}, "axis": {"values": [0,0.5,1,1.5,2,2.5,3,3.5,4], "labels": false, "title": null}}, "y": {"field": "y", "type": "quantitative", "scale": {"domain": [0, 162], "nice": false}, "axis": null}},
   "layer": [
    {"transform": [{"filter": "datum.p == 1 && datum.s == 'd'"}], "mark": {"type": "line", "stroke": "#8c8c8c", "strokeWidth": 4, "clip": true}},
    {"transform": [{"filter": "datum.p == 1 && datum.s == 'd'"}], "mark": {"type": "point", "shape": "circle", "size": 14, "filled": false, "stroke": "#6e6e6e", "strokeWidth": 0.8, "opacity": 1, "clip": true}},
    {"transform": [{"filter": "datum.p == 1 && datum.s == 'd'"}], "mark": {"type": "line", "stroke": "black", "strokeWidth": 1.1, "clip": true}},
    {"transform": [{"filter": "datum.p == 1 && datum.s == 'f'"}], "mark": {"type": "line", "stroke": "black", "strokeWidth": 1.3, "interpolate": "monotone", "clip": true}},
    {"data": {"name": "lb"}, "transform": [{"filter": "datum.p == 1 && datum.k == 'n'"}], "mark": {"type": "text", "align": "right", "baseline": "alphabetic", "fontSize": 22}, "encoding": {"text": {"field": "t"}}},
    {"data": {"name": "lb"}, "transform": [{"filter": "datum.p == 1 && datum.k == 'f'"}], "mark": {"type": "text", "align": "right", "baseline": "alphabetic", "fontSize": 20}, "encoding": {"text": {"field": "t"}}},
    {"data": {"name": "lb"}, "transform": [{"filter": "datum.p == 1 && datum.k == 'u'"}], "mark": {"type": "text", "align": "left", "baseline": "alphabetic", "fontSize": 12}, "encoding": {"text": {"field": "t"}}}
   ]},
  {"width": 286, "height": 162, "data": {"name": "tr"},
   "encoding": {"x": {"field": "x", "type": "quantitative", "scale": {"domain": [0, 400], "nice": false}, "axis": {"values": [0,50,100,150,200,250,300,350,400], "labels": false, "title": null}}, "y": {"field": "y", "type": "quantitative", "scale": {"domain": [0, 162], "nice": false}, "axis": null}},
   "layer": [
    {"transform": [{"filter": "datum.p == 1 && datum.s == 'sp'"}], "mark": {"type": "line", "stroke": "black", "strokeWidth": 1.3, "interpolate": "monotone", "clip": true}},
    {"data": {"name": "lb"}, "transform": [{"filter": "datum.p == 1 && datum.k == 'pk'"}], "mark": {"type": "text", "angle": 270, "align": "left", "baseline": "middle", "fontSize": 18}, "encoding": {"text": {"field": "t"}}},
    {"data": {"name": "lb"}, "transform": [{"filter": "datum.p == 1 && datum.k == 'l'"}], "mark": {"type": "text", "align": "left", "baseline": "alphabetic", "fontSize": 22}, "encoding": {"text": {"field": "t"}}},
    {"data": {"name": "lb"}, "transform": [{"filter": "datum.p == 1 && datum.k == 'm'"}], "mark": {"type": "text", "align": "left", "baseline": "alphabetic", "fontSize": 13}, "encoding": {"text": {"field": "t"}}}
   ]},
  {"width": 287, "height": 162, "data": {"name": "tr"},
   "encoding": {"x": {"field": "x", "type": "quantitative", "scale": {"domain": [0, 4], "nice": false}, "axis": {"values": [0,0.5,1,1.5,2,2.5,3,3.5,4], "labels": false, "title": null}}, "y": {"field": "y", "type": "quantitative", "scale": {"domain": [0, 162], "nice": false}, "axis": null}},
   "layer": [
    {"transform": [{"filter": "datum.p == 2 && datum.s == 'd'"}], "mark": {"type": "line", "stroke": "#8c8c8c", "strokeWidth": 4, "clip": true}},
    {"transform": [{"filter": "datum.p == 2 && datum.s == 'd'"}], "mark": {"type": "point", "shape": "circle", "size": 14, "filled": false, "stroke": "#6e6e6e", "strokeWidth": 0.8, "opacity": 1, "clip": true}},
    {"transform": [{"filter": "datum.p == 2 && datum.s == 'd'"}], "mark": {"type": "line", "stroke": "black", "strokeWidth": 1.1, "clip": true}},
    {"transform": [{"filter": "datum.p == 2 && datum.s == 'f'"}], "mark": {"type": "line", "stroke": "black", "strokeWidth": 1.3, "interpolate": "monotone", "clip": true}},
    {"data": {"name": "lb"}, "transform": [{"filter": "datum.p == 2 && datum.k == 'n'"}], "mark": {"type": "text", "align": "right", "baseline": "alphabetic", "fontSize": 22}, "encoding": {"text": {"field": "t"}}},
    {"data": {"name": "lb"}, "transform": [{"filter": "datum.p == 2 && datum.k == 's'"}], "mark": {"type": "text", "align": "left", "baseline": "alphabetic", "fontSize": 13}, "encoding": {"text": {"field": "t"}}},
    {"data": {"name": "lb"}, "transform": [{"filter": "datum.p == 2 && datum.k == 'f'"}], "mark": {"type": "text", "align": "right", "baseline": "alphabetic", "fontSize": 20}, "encoding": {"text": {"field": "t"}}},
    {"data": {"name": "lb"}, "transform": [{"filter": "datum.p == 2 && datum.k == 'u'"}], "mark": {"type": "text", "align": "left", "baseline": "alphabetic", "fontSize": 12}, "encoding": {"text": {"field": "t"}}}
   ]},
  {"width": 286, "height": 162, "data": {"name": "tr"},
   "encoding": {"x": {"field": "x", "type": "quantitative", "scale": {"domain": [0, 400], "nice": false}, "axis": {"values": [0,50,100,150,200,250,300,350,400], "labels": false, "title": null}}, "y": {"field": "y", "type": "quantitative", "scale": {"domain": [0, 162], "nice": false}, "axis": null}},
   "layer": [
    {"transform": [{"filter": "datum.p == 2 && datum.s == 'sp'"}], "mark": {"type": "line", "stroke": "black", "strokeWidth": 1.3, "interpolate": "monotone", "clip": true}},
    {"data": {"name": "lb"}, "transform": [{"filter": "datum.p == 2 && datum.k == 'pk'"}], "mark": {"type": "text", "angle": 270, "align": "left", "baseline": "middle", "fontSize": 18}, "encoding": {"text": {"field": "t"}}},
    {"data": {"name": "lb"}, "transform": [{"filter": "datum.p == 2 && datum.k == 'l'"}], "mark": {"type": "text", "align": "left", "baseline": "alphabetic", "fontSize": 22}, "encoding": {"text": {"field": "t"}}},
    {"data": {"name": "lb"}, "transform": [{"filter": "datum.p == 2 && datum.k == 'm'"}], "mark": {"type": "text", "align": "left", "baseline": "alphabetic", "fontSize": 13}, "encoding": {"text": {"field": "t"}}}
   ]},
  {"width": 287, "height": 162, "data": {"name": "tr"},
   "encoding": {"x": {"field": "x", "type": "quantitative", "scale": {"domain": [0, 4], "nice": false}, "axis": {"values": [0,0.5,1,1.5,2,2.5,3,3.5,4], "labels": false, "title": null}}, "y": {"field": "y", "type": "quantitative", "scale": {"domain": [0, 162], "nice": false}, "axis": null}},
   "layer": [
    {"transform": [{"filter": "datum.p == 3 && datum.s == 'd'"}], "mark": {"type": "line", "stroke": "#8c8c8c", "strokeWidth": 4, "clip": true}},
    {"transform": [{"filter": "datum.p == 3 && datum.s == 'd'"}], "mark": {"type": "point", "shape": "circle", "size": 14, "filled": false, "stroke": "#6e6e6e", "strokeWidth": 0.8, "opacity": 1, "clip": true}},
    {"transform": [{"filter": "datum.p == 3 && datum.s == 'd'"}], "mark": {"type": "line", "stroke": "black", "strokeWidth": 1.1, "clip": true}},
    {"transform": [{"filter": "datum.p == 3 && datum.s == 'f'"}], "mark": {"type": "line", "stroke": "black", "strokeWidth": 1.3, "interpolate": "monotone", "clip": true}},
    {"data": {"name": "lb"}, "transform": [{"filter": "datum.p == 3 && datum.k == 'n'"}], "mark": {"type": "text", "align": "right", "baseline": "alphabetic", "fontSize": 22}, "encoding": {"text": {"field": "t"}}},
    {"data": {"name": "lb"}, "transform": [{"filter": "datum.p == 3 && datum.k == 'f'"}], "mark": {"type": "text", "align": "right", "baseline": "alphabetic", "fontSize": 20}, "encoding": {"text": {"field": "t"}}},
    {"data": {"name": "lb"}, "transform": [{"filter": "datum.p == 3 && datum.k == 'u'"}], "mark": {"type": "text", "align": "left", "baseline": "alphabetic", "fontSize": 12}, "encoding": {"text": {"field": "t"}}}
   ]},
  {"width": 286, "height": 162, "data": {"name": "tr"},
   "encoding": {"x": {"field": "x", "type": "quantitative", "scale": {"domain": [0, 400], "nice": false}, "axis": {"values": [0,50,100,150,200,250,300,350,400], "labels": false, "title": null}}, "y": {"field": "y", "type": "quantitative", "scale": {"domain": [0, 162], "nice": false}, "axis": null}},
   "layer": [
    {"transform": [{"filter": "datum.p == 3 && datum.s == 'sp'"}], "mark": {"type": "line", "stroke": "black", "strokeWidth": 1.3, "interpolate": "monotone", "clip": true}},
    {"data": {"name": "lb"}, "transform": [{"filter": "datum.p == 3 && datum.k == 'pk'"}], "mark": {"type": "text", "angle": 270, "align": "left", "baseline": "middle", "fontSize": 18}, "encoding": {"text": {"field": "t"}}},
    {"data": {"name": "lb"}, "transform": [{"filter": "datum.p == 3 && datum.k == 'l'"}], "mark": {"type": "text", "align": "left", "baseline": "alphabetic", "fontSize": 22}, "encoding": {"text": {"field": "t"}}},
    {"data": {"name": "lb"}, "transform": [{"filter": "datum.p == 3 && datum.k == 'm'"}], "mark": {"type": "text", "align": "left", "baseline": "alphabetic", "fontSize": 13}, "encoding": {"text": {"field": "t"}}}
   ]},
  {"width": 287, "height": 162, "data": {"name": "tr"},
   "encoding": {"x": {"field": "x", "type": "quantitative", "scale": {"domain": [0, 4], "nice": false}, "axis": {"values": [0,0.5,1,1.5,2,2.5,3,3.5,4], "labels": false, "title": null}}, "y": {"field": "y", "type": "quantitative", "scale": {"domain": [0, 162], "nice": false}, "axis": null}},
   "layer": [
    {"transform": [{"filter": "datum.p == 4 && datum.s == 'd'"}], "mark": {"type": "line", "stroke": "#8c8c8c", "strokeWidth": 4, "clip": true}},
    {"transform": [{"filter": "datum.p == 4 && datum.s == 'd'"}], "mark": {"type": "point", "shape": "circle", "size": 14, "filled": false, "stroke": "#6e6e6e", "strokeWidth": 0.8, "opacity": 1, "clip": true}},
    {"transform": [{"filter": "datum.p == 4 && datum.s == 'd'"}], "mark": {"type": "line", "stroke": "black", "strokeWidth": 1.1, "clip": true}},
    {"transform": [{"filter": "datum.p == 4 && datum.s == 'f'"}], "mark": {"type": "line", "stroke": "black", "strokeWidth": 1.3, "interpolate": "monotone", "clip": true}},
    {"data": {"name": "lb"}, "transform": [{"filter": "datum.p == 4 && datum.k == 'n'"}], "mark": {"type": "text", "align": "right", "baseline": "alphabetic", "fontSize": 22}, "encoding": {"text": {"field": "t"}}},
    {"data": {"name": "lb"}, "transform": [{"filter": "datum.p == 4 && datum.k == 'f'"}], "mark": {"type": "text", "align": "right", "baseline": "alphabetic", "fontSize": 20}, "encoding": {"text": {"field": "t"}}},
    {"data": {"name": "lb"}, "transform": [{"filter": "datum.p == 4 && datum.k == 'u'"}], "mark": {"type": "text", "align": "left", "baseline": "alphabetic", "fontSize": 12}, "encoding": {"text": {"field": "t"}}}
   ]},
  {"width": 286, "height": 162, "data": {"name": "tr"},
   "encoding": {"x": {"field": "x", "type": "quantitative", "scale": {"domain": [0, 400], "nice": false}, "axis": {"values": [0,50,100,150,200,250,300,350,400], "labels": false, "title": null}}, "y": {"field": "y", "type": "quantitative", "scale": {"domain": [0, 162], "nice": false}, "axis": null}},
   "layer": [
    {"transform": [{"filter": "datum.p == 4 && datum.s == 'sp'"}], "mark": {"type": "line", "stroke": "black", "strokeWidth": 1.3, "interpolate": "monotone", "clip": true}},
    {"data": {"name": "lb"}, "transform": [{"filter": "datum.p == 4 && datum.k == 'pk'"}], "mark": {"type": "text", "angle": 270, "align": "left", "baseline": "middle", "fontSize": 18}, "encoding": {"text": {"field": "t"}}},
    {"data": {"name": "lb"}, "transform": [{"filter": "datum.p == 4 && datum.k == 'l'"}], "mark": {"type": "text", "align": "left", "baseline": "alphabetic", "fontSize": 22}, "encoding": {"text": {"field": "t"}}},
    {"data": {"name": "lb"}, "transform": [{"filter": "datum.p == 4 && datum.k == 'm'"}], "mark": {"type": "text", "align": "left", "baseline": "alphabetic", "fontSize": 13}, "encoding": {"text": {"field": "t"}}}
   ]},
  {"width": 287, "height": 162, "data": {"name": "tr"},
   "encoding": {"x": {"field": "x", "type": "quantitative", "scale": {"domain": [0, 4], "nice": false}, "axis": {"values": [0,0.5,1,1.5,2,2.5,3,3.5,4], "labelExpr": "datum.value % 1 === 0 ? '' + datum.value : ''", "title": "time(ps)", "titlePadding": 8}}, "y": {"field": "y", "type": "quantitative", "scale": {"domain": [0, 162], "nice": false}, "axis": null}},
   "layer": [
    {"transform": [{"filter": "datum.p == 5 && datum.s == 'd'"}], "mark": {"type": "line", "stroke": "#8c8c8c", "strokeWidth": 4, "clip": true}},
    {"transform": [{"filter": "datum.p == 5 && datum.s == 'd'"}], "mark": {"type": "point", "shape": "circle", "size": 14, "filled": false, "stroke": "#6e6e6e", "strokeWidth": 0.8, "opacity": 1, "clip": true}},
    {"transform": [{"filter": "datum.p == 5 && datum.s == 'd'"}], "mark": {"type": "line", "stroke": "black", "strokeWidth": 1.1, "clip": true}},
    {"transform": [{"filter": "datum.p == 5 && datum.s == 'f'"}], "mark": {"type": "line", "stroke": "black", "strokeWidth": 1.3, "interpolate": "monotone", "clip": true}},
    {"data": {"name": "lb"}, "transform": [{"filter": "datum.p == 5 && datum.k == 'n'"}], "mark": {"type": "text", "align": "right", "baseline": "alphabetic", "fontSize": 22}, "encoding": {"text": {"field": "t"}}},
    {"data": {"name": "lb"}, "transform": [{"filter": "datum.p == 5 && datum.k == 'f'"}], "mark": {"type": "text", "align": "right", "baseline": "alphabetic", "fontSize": 20}, "encoding": {"text": {"field": "t"}}},
    {"data": {"name": "lb"}, "transform": [{"filter": "datum.p == 5 && datum.k == 'u'"}], "mark": {"type": "text", "align": "left", "baseline": "alphabetic", "fontSize": 12}, "encoding": {"text": {"field": "t"}}}
   ]},
  {"width": 286, "height": 162, "data": {"name": "tr"},
   "encoding": {"x": {"field": "x", "type": "quantitative", "scale": {"domain": [0, 400], "nice": false}, "axis": {"values": [0,50,100,150,200,250,300,350,400], "labelExpr": "datum.value % 100 === 0 ? '' + datum.value : ''", "title": "frequency(cm⁻¹)", "titlePadding": 13}}, "y": {"field": "y", "type": "quantitative", "scale": {"domain": [0, 162], "nice": false}, "axis": null}},
   "layer": [
    {"transform": [{"filter": "datum.p == 5 && datum.s == 'sp'"}], "mark": {"type": "line", "stroke": "black", "strokeWidth": 1.3, "interpolate": "monotone", "clip": true}},
    {"data": {"name": "lb"}, "transform": [{"filter": "datum.p == 5 && datum.k == 'pk'"}], "mark": {"type": "text", "angle": 270, "align": "left", "baseline": "middle", "fontSize": 18}, "encoding": {"text": {"field": "t"}}},
    {"data": {"name": "lb"}, "transform": [{"filter": "datum.p == 5 && datum.k == 'l'"}], "mark": {"type": "text", "align": "left", "baseline": "alphabetic", "fontSize": 22}, "encoding": {"text": {"field": "t"}}},
    {"data": {"name": "lb"}, "transform": [{"filter": "datum.p == 5 && datum.k == 'm'"}], "mark": {"type": "text", "align": "left", "baseline": "alphabetic", "fontSize": 13}, "encoding": {"text": {"field": "t"}}}
   ]}
]
}
